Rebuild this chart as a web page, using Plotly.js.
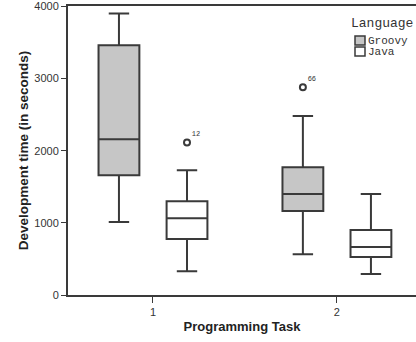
<!DOCTYPE html>
<html><head><meta charset="utf-8">
<script src="https://cdn.plot.ly/plotly-3.0.1.min.js"></script>
<style>html,body{margin:0;padding:0;background:#fff}#c{width:416px;height:342px}</style>
</head><body><div id="c"></div>
<script>
const tasks = [1, 2];
const groovyQ1 = [1660, 1165];
const groovyMedian = [2160, 1400];
const groovyQ3 = [3460, 1770];
const groovyLow = [1010, 565];
const groovyHigh = [3900, 2480];
const groovyOutlierTask = [2];
const groovyOutliers = [2880];
const groovyOutlierLabels = ["66"];
const javaQ1 = [775, 525];
const javaMedian = [1065, 665];
const javaQ3 = [1300, 900];
const javaLow = [330, 290];
const javaHigh = [1730, 1400];
const javaOutlierTask = [1];
const javaOutliers = [2115];
const javaOutlierLabels = ["12"];
const legendTitle = 'Language';
const seriesNames = ['Groovy', 'Java'];
const seriesFills = ['#c6c6c6', '#ffffff'];

const lineCol = '#3a3a3a';
const mono = 'Liberation Mono';
const boxgap = 0.26;
const boxgroupgap = 0.4;
const slot = (1 - boxgap) / 2;

const W = 416, H = 342, M = {l: 68, r: 0, t: 6, b: 47};
const pw = W - M.l - M.r, ph = H - M.t - M.b;
const px = x => (x - M.l) / pw;
const py = y => (H - M.b - y) / ph;

function boxTrace(name, fill, q1, med, q3, lo, hi) {
  return {
    type: 'box', name: name, x: tasks,
    q1: q1, median: med, q3: q3, lowerfence: lo, upperfence: hi,
    boxpoints: false,
    fillcolor: fill,
    line: {color: lineCol, width: 2},
    whiskerwidth: 0.5, hoverinfo: 'skip', showlegend: false
  };
}
function outlierTrace(taskArr, vals, labels, side) {
  return {
    type: 'scatter', mode: 'markers+text', showlegend: false, hoverinfo: 'skip',
    x: taskArr.map(t => t + side * slot / 2), y: vals,
    text: labels, textposition: 'top right',
    textfont: {family: mono, size: 7, color: '#333'},
    marker: {color: '#fff', size: 6, line: {color: lineCol, width: 2}}
  };
}
const traces = [
  boxTrace(seriesNames[0], seriesFills[0], groovyQ1, groovyMedian, groovyQ3, groovyLow, groovyHigh),
  boxTrace(seriesNames[1], seriesFills[1], javaQ1, javaMedian, javaQ3, javaLow, javaHigh),
  outlierTrace(groovyOutlierTask, groovyOutliers, groovyOutlierLabels, -1),
  outlierTrace(javaOutlierTask, javaOutliers, javaOutlierLabels, 1)
];

// legend drawn in paper coordinates
const annotations = [{
  xref: 'paper', yref: 'paper', x: px(349), y: py(23), xanchor: 'left', yanchor: 'middle',
  text: legendTitle, showarrow: false, font: {family: mono, size: 13, color: '#333'}
}];
const shapes = [];
seriesNames.forEach((n, i) => {
  const top = 36 + i * 11;
  shapes.push({type: 'rect', xref: 'paper', yref: 'paper', x0: px(355), x1: px(365),
    y0: py(top + 9), y1: py(top), fillcolor: seriesFills[i], line: {color: lineCol, width: 1.5}});
  annotations.push({xref: 'paper', yref: 'paper', x: px(366), y: py(top + 5), xanchor: 'left', yanchor: 'middle',
    text: n, showarrow: false, font: {family: mono, size: 11, color: '#333'}});
});

const layout = {
  width: W, height: H, margin: M,
  paper_bgcolor: '#fff', plot_bgcolor: '#fff',
  boxmode: 'group', boxgap: boxgap, boxgroupgap: boxgroupgap,
  showlegend: false,
  xaxis: {
    range: [0.538, 2.43], tickvals: tasks, ticktext: tasks.map(String),
    showgrid: false, zeroline: false, showline: true, linecolor: lineCol, linewidth: 2,
    mirror: true, ticks: 'outside', ticklen: 6, tickcolor: lineCol, tickwidth: 1,
    tickfont: {family: 'Arial, Liberation Sans', size: 11, color: '#333'},
    title: {text: 'Programming Task', standoff: 5, font: {family: 'Arial, Liberation Sans', size: 13, color: '#222', weight: 'bold'}}
  },
  yaxis: {
    range: [0, 4005], tickvals: [0, 1000, 2000, 3000, 4000],
    showgrid: false, zeroline: false, showline: true, linecolor: lineCol, linewidth: 2,
    ticks: 'outside', ticklen: 5, tickcolor: lineCol, tickwidth: 1,
    tickfont: {family: 'Arial, Liberation Sans', size: 11, color: '#333'},
    title: {text: 'Development time (in seconds)', standoff: 3, font: {family: 'Arial, Liberation Sans', size: 13.5, color: '#222', weight: 'bold'}}
  },
  annotations: annotations, shapes: shapes
};
Plotly.newPlot('c', traces, layout, {staticPlot: true, displayModeBar: false});
</script></body></html>
